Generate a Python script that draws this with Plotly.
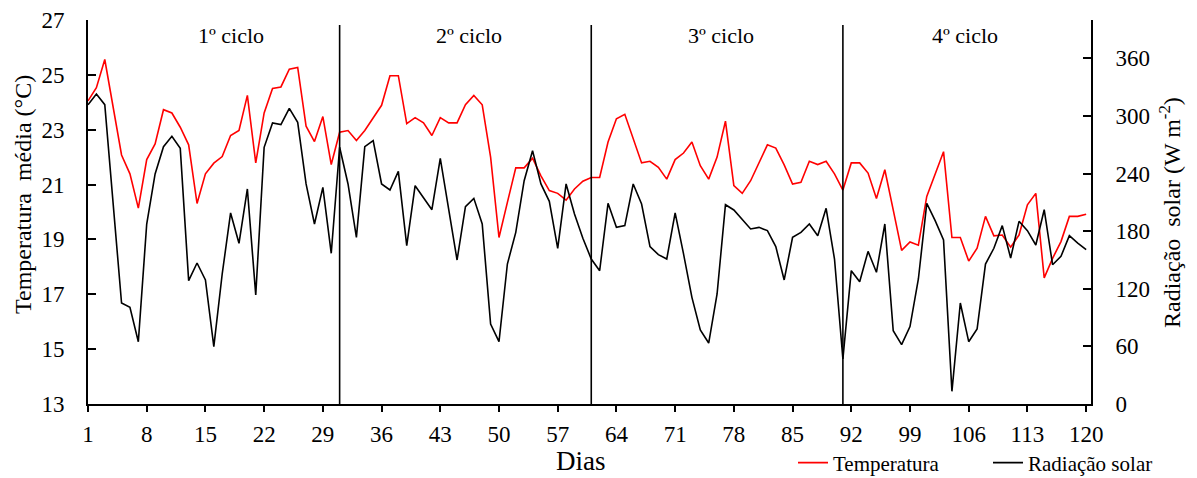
import plotly.graph_objects as go

dias = list(range(1, 121))

temperatura = [
    24.05, 24.53, 25.56, 23.83, 22.08, 21.39, 20.14, 21.91, 22.48, 23.73,
    23.61, 23.09, 22.45, 20.31, 21.39, 21.78, 22.02, 22.79, 22.97, 24.25,
    21.79, 23.61, 24.50, 24.56, 25.21, 25.27, 23.13, 22.57, 23.48, 21.73,
    22.91, 22.97, 22.61, 22.97, 23.42, 23.89, 24.97, 24.97, 23.22, 23.44,
    23.25, 22.79, 23.44, 23.25, 23.25, 23.91, 24.25, 23.91, 22.00, 19.07,
    20.35, 21.61, 21.61, 21.96, 21.32, 20.78, 20.68, 20.43, 20.84, 21.12,
    21.26, 21.26, 22.55, 23.40, 23.56, 22.67, 21.79, 21.85, 21.63, 21.20,
    21.91, 22.15, 22.55, 21.69, 21.20, 22.00, 23.31, 20.96, 20.68, 21.14,
    21.81, 22.45, 22.33, 21.72, 21.02, 21.08, 21.85, 21.73, 21.85, 21.39,
    20.80, 21.79, 21.79, 21.42, 20.49, 21.54, 20.08, 18.60, 18.91, 18.79,
    20.57, 21.39, 22.20, 19.07, 19.07, 18.21, 18.68, 19.84, 19.13, 19.16,
    18.72, 19.16, 20.26, 20.68, 17.60, 18.31, 18.92, 19.84, 19.84, 19.92,
]

radiacao = [
    311.8, 322.9, 311.8, 208.0, 105.2, 100.7, 64.9, 187.5, 239.6, 268.0,
    278.8, 266.3, 128.5, 146.9, 129.2, 59.7, 135.4, 199.0, 167.4, 224.0,
    113.5, 267.4, 292.7, 291.0, 308.0, 293.4, 229.2, 187.5, 225.7, 157.0,
    267.4, 229.2, 173.6, 268.0, 274.3, 229.2, 222.9, 242.4, 164.9, 227.4,
    215.3, 202.4, 255.9, 203.1, 150.0, 205.6, 214.2, 187.5, 83.3, 64.9,
    145.8, 178.8, 232.6, 263.9, 229.2, 211.1, 162.2, 229.2, 197.9, 172.6,
    151.0, 138.9, 209.0, 184.0, 185.8, 229.2, 208.3, 163.9, 155.6, 151.0,
    199.0, 156.3, 111.1, 77.1, 63.5, 114.6, 207.6, 202.1, 191.7, 182.3,
    184.0, 180.6, 163.9, 129.2, 173.6, 178.8, 187.5, 175.3, 203.8, 151.0,
    46.9, 138.9, 127.4, 159.0, 137.2, 187.5, 76.4, 61.8, 80.6, 130.2,
    209.0, 191.0, 170.8, 13.2, 105.2, 64.9, 78.1, 145.8, 162.2, 185.8,
    152.1, 190.3, 180.6, 165.6, 202.4, 145.1, 153.8, 175.3, 167.7, 160.8,
]

x_ticks = list(range(1, 121, 7))
y_ticks = list(range(13, 28, 2))
y2_ticks = list(range(0, 361, 60))

ciclo_limites = [31, 61, 91]
ciclo_nomes = ["1º ciclo", "2º ciclo", "3º ciclo", "4º ciclo"]
ciclo_pos = [18, 46.4, 76.5, 105.6]

FONT = "Liberation Serif, Times New Roman, serif"
W, H = 1197, 478
m_l, m_r, m_t, m_b = 88, 106, 20, 74
pw, ph = W - m_l - m_r, H - m_t - m_b


def px_to_paper(px, py):
    return (px - m_l) / pw, 1 - (py - m_t) / ph


fig = go.Figure()
fig.add_trace(go.Scatter(x=dias, y=temperatura, mode="lines", name="Temperatura",
                         line=dict(color="#ff0000", width=1.6), yaxis="y",
                         legend="legend"))
fig.add_trace(go.Scatter(x=dias, y=radiacao, mode="lines", name="Radiação solar",
                         line=dict(color="#000000", width=1.6), yaxis="y2",
                         legend="legend2"))

for d in ciclo_limites:
    fig.add_shape(type="line", xref="x", yref="y", x0=d, x1=d, y0=13, y1=26.82,
                  line=dict(color="black", width=1.6))

for nome, pos in zip(ciclo_nomes, ciclo_pos):
    fig.add_annotation(x=pos, y=26.45, xref="x", yref="y", text=nome, showarrow=False,
                       font=dict(family=FONT, size=22, color="black"))

# axis titles
ax, ay = px_to_paper(581, 461)
fig.add_annotation(x=ax, y=ay, xref="paper", yref="paper",
                   text="Dias", showarrow=False, xanchor="center", yanchor="middle",
                   font=dict(family=FONT, size=27, color="black"))
ax, ay = px_to_paper(23, 195)
fig.add_annotation(x=ax, y=ay, xref="paper", yref="paper",
                   text="Temperatura\u00a0\u00a0média (°C)", textangle=-90,
                   showarrow=False, xanchor="center", yanchor="middle",
                   font=dict(family=FONT, size=24, color="black"))
ax, ay = px_to_paper(1170, 213)
fig.add_annotation(x=ax, y=ay, xref="paper", yref="paper",
                   text="Radiação\u00a0\u00a0solar (W m<sup>-2</sup>)", textangle=-90,
                   showarrow=False, xanchor="center", yanchor="middle",
                   font=dict(family=FONT, size=24, color="black"))

legend_common = dict(orientation="h", xref="container", yref="container",
                     xanchor="left", yanchor="middle", y=1 - 463 / H,
                     font=dict(family=FONT, size=21), bgcolor="rgba(0,0,0,0)",
                     borderwidth=0)

fig.update_layout(
    width=W, height=H,
    margin=dict(l=m_l, r=m_r, t=m_t, b=m_b, autoexpand=False),
    paper_bgcolor="white", plot_bgcolor="white",
    font=dict(family=FONT, size=23, color="black"),
    showlegend=True,
    legend=dict(x=793 / W, **legend_common),
    legend2=dict(x=988 / W, **legend_common),
    xaxis=dict(range=[1, 120.58], tickvals=x_ticks, ticks="outside", ticklen=6,
               tickwidth=1.5, tickcolor="black", showline=True, linecolor="black",
               linewidth=1.8, showgrid=False, zeroline=False, automargin=False,
               ticklabelstandoff=2),
    yaxis=dict(range=[13, 27], tickvals=y_ticks, ticks="inside", ticklen=8,
               tickwidth=1.5, tickcolor="black", showline=True, linecolor="black",
               linewidth=1.8, showgrid=False, zeroline=False, automargin=False,
               ticklabelstandoff=17),
    yaxis2=dict(range=[0, 400], tickvals=y2_ticks, ticks="inside", ticklen=8,
                tickwidth=1.5, tickcolor="black", showline=True, linecolor="black",
                linewidth=1.8, showgrid=False, zeroline=False, overlaying="y",
                side="right", automargin=False, ticklabelstandoff=18),
)

fig.write_html("out.html")
